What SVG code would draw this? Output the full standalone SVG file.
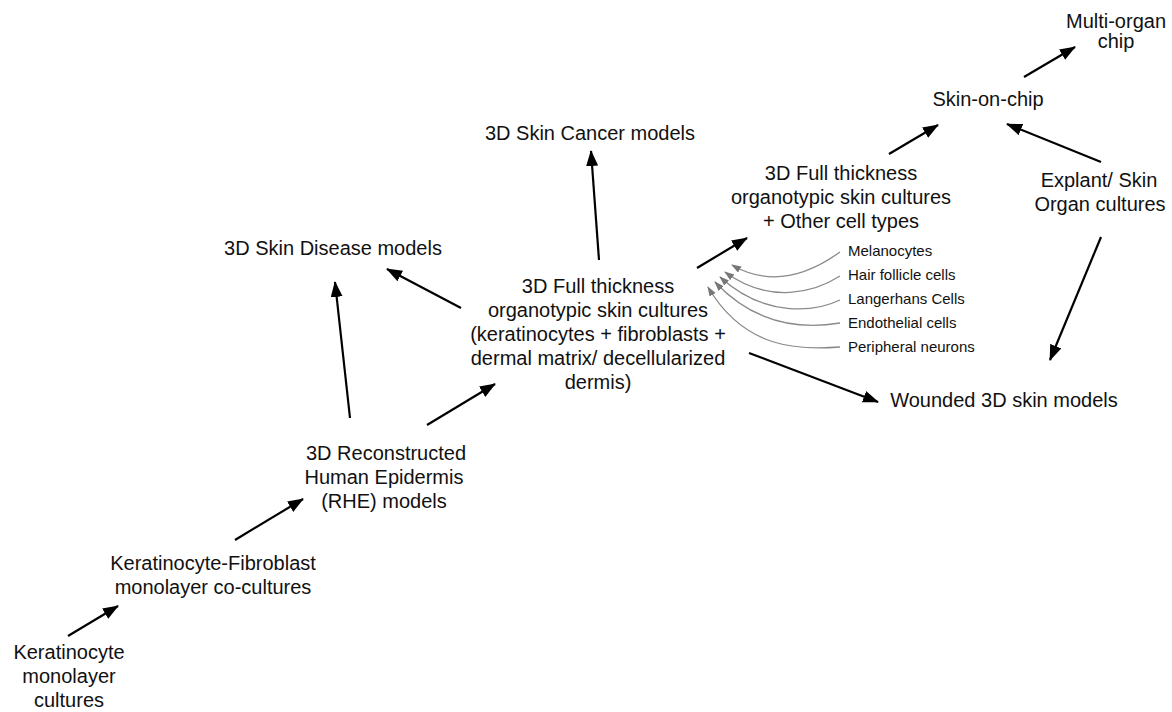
<svg xmlns="http://www.w3.org/2000/svg" width="1172" height="712" viewBox="0 0 1172 712">
<defs>
<style>
.t{font-family:"Liberation Sans",Arial,sans-serif;font-size:20px;fill:#111;text-anchor:middle}
.s{font-family:"Liberation Sans",Arial,sans-serif;font-size:15px;fill:#111;text-anchor:start}
.a{stroke:#000;stroke-width:2.2;fill:none;marker-end:url(#ah)}
.g{stroke:#8a8a8a;stroke-width:1.3;fill:none;marker-end:url(#gh)}
</style>
<marker id="ah" markerUnits="userSpaceOnUse" markerWidth="16" markerHeight="12" refX="15" refY="6" orient="auto">
<path d="M0,0 L16,6 L0,12 z" fill="#000"/>
</marker>
<marker id="gh" markerUnits="userSpaceOnUse" markerWidth="10" markerHeight="8" refX="9" refY="3.5" orient="auto">
<path d="M0,0 L10,3.5 L0,7 z" fill="#777"/>
</marker>
</defs>
<rect width="1172" height="712" fill="#fff"/>

<g id="connectors">
<line class="a" x1="68" y1="636" x2="118" y2="606"/>
<line class="a" x1="235" y1="540" x2="303" y2="499"/>
<line class="a" x1="350" y1="418" x2="335" y2="282"/>
<line class="a" x1="427" y1="425" x2="495" y2="384"/>
<line class="a" x1="461" y1="308" x2="387" y2="269"/>
<line class="a" x1="599" y1="260" x2="591" y2="151"/>
<line class="a" x1="697" y1="268" x2="747" y2="238"/>
<line class="a" x1="749" y1="353" x2="878" y2="402"/>
<line class="a" x1="889" y1="154" x2="938" y2="125"/>
<line class="a" x1="1024" y1="77" x2="1075" y2="47"/>
<line class="a" x1="1101" y1="162" x2="1007" y2="124"/>
<line class="a" x1="1101" y1="237" x2="1050" y2="360"/>
<path class="g" d="M840,252 C815,270 775,290 732,265"/>
<path class="g" d="M840,276 C815,292 770,305 725,272"/>
<path class="g" d="M840,300 C815,312 765,318 720,277"/>
<path class="g" d="M840,323 C810,328 760,330 715,282"/>
<path class="g" d="M840,347 C800,350 745,350 708,287"/>
</g>

<g id="n-kerat-mono">
<text class="t" x="69" y="659">Keratinocyte</text>
<text class="t" x="69" y="683">monolayer</text>
<text class="t" x="69" y="707">cultures</text>
</g>
<g id="n-kf-cocult">
<text class="t" x="213" y="570">Keratinocyte-Fibroblast</text>
<text class="t" x="213" y="594">monolayer co-cultures</text>
</g>
<g id="n-rhe">
<text class="t" x="386" y="460">3D Reconstructed</text>
<text class="t" x="384" y="484">Human  Epidermis</text>
<text class="t" x="384" y="508">(RHE) models</text>
</g>
<g id="n-disease">
<text class="t" x="333" y="255">3D Skin Disease models</text>
</g>
<g id="n-cancer">
<text class="t" x="590" y="140">3D Skin Cancer models</text>
</g>
<g id="n-fullthick">
<text class="t" x="598" y="293">3D Full thickness</text>
<text class="t" x="598" y="317">organotypic skin cultures</text>
<text class="t" x="598" y="341">(keratinocytes + fibroblasts +</text>
<text class="t" x="598" y="365">dermal matrix/ decellularized</text>
<text class="t" x="598" y="389">dermis)</text>
</g>
<g id="n-fullthick-other">
<text class="t" x="841" y="180">3D Full thickness</text>
<text class="t" x="841" y="204">organotypic skin cultures</text>
<text class="t" x="841" y="228">+ Other cell types</text>
</g>
<g id="n-celltypes">
<text class="s" x="848" y="256">Melanocytes</text>
<text class="s" x="848" y="280">Hair follicle cells</text>
<text class="s" x="848" y="304">Langerhans Cells</text>
<text class="s" x="848" y="328">Endothelial cells</text>
<text class="s" x="848" y="352">Peripheral neurons</text>
</g>
<g id="n-wounded">
<text class="t" x="1004" y="407">Wounded 3D skin models</text>
</g>
<g id="n-skinchip">
<text class="t" x="988" y="106">Skin-on-chip</text>
</g>
<g id="n-multiorgan">
<text class="t" x="1116" y="28">Multi-organ</text>
<text class="t" x="1116" y="48">chip</text>
</g>
<g id="n-explant">
<text class="t" x="1099" y="187">Explant/ Skin</text>
<text class="t" x="1100" y="211">Organ cultures</text>
</g>
</svg>
